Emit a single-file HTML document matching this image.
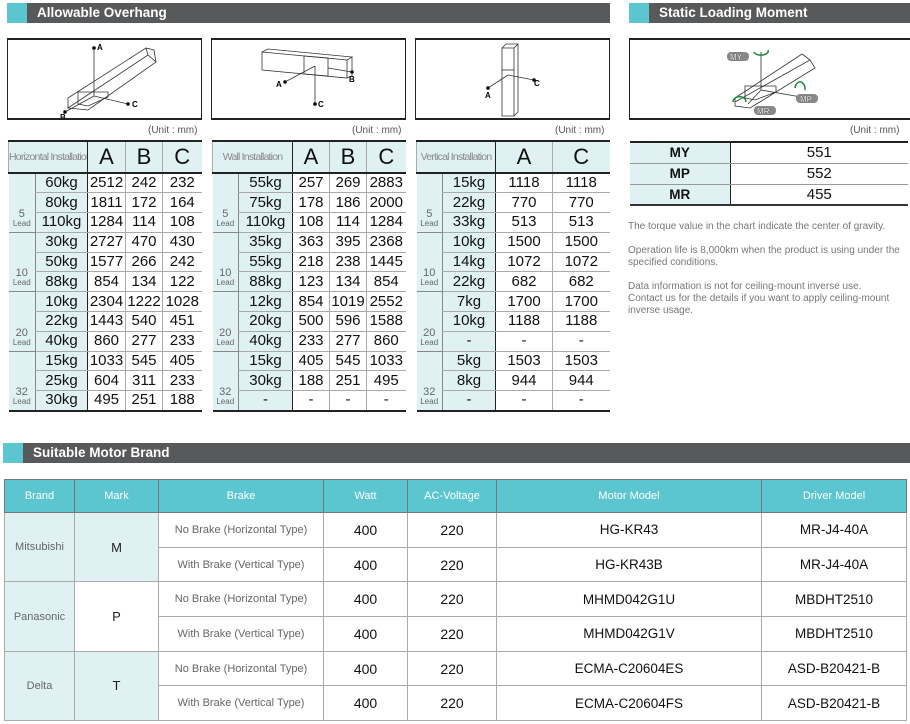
<!DOCTYPE html>
<html><head><meta charset="utf-8"><style>
*{margin:0;padding:0;box-sizing:border-box}
body{width:910px;height:724px;background:#fff;position:relative;overflow:hidden;font-family:"Liberation Sans",sans-serif}
.bar{position:absolute;height:20px;background:#58595b;color:#fff;font-weight:bold;font-size:13.5px;line-height:20px;padding-left:30px}
.bar:before{content:"";position:absolute;left:0;top:0;width:20px;height:20px;background:#5bc6cf}
.box{position:absolute;top:38px;height:82px;border:2px solid #222;border-left-width:1.5px;border-right-width:1.5px}
.unit{position:absolute;top:125px;font-size:10px;color:#555}
table{position:absolute;border-collapse:collapse;table-layout:fixed}
.t td{border-bottom:1px solid #aaa;border-left:1px solid #aaa;height:19.8px;text-align:center;font-size:15px;color:#111;padding:0;line-height:18px}
.t tr.h td{height:32px;background:#e0f1f4;font-size:22px;border-bottom:2px solid #222}
.t tr.h td.lbl{font-size:10.5px;color:#888;letter-spacing:-0.8px;white-space:nowrap;overflow:hidden}
.t{border-top:2px solid #222;border-bottom:2px solid #222}
.t td.ld{background:#e0f1f4;font-size:11px;color:#666;vertical-align:bottom;line-height:10px;padding-bottom:4px;border-left:none;border-bottom:1px solid #888}
.t td.ld span{font-size:8px;display:block;line-height:9px}
.t td.kg{background:#e0f1f4;border-left:1px solid #888}
.t td.a{border-left:1.5px solid #222}
.m td{border-bottom:1.5px solid #999;height:21px;text-align:center;font-size:15px;color:#111}
.m td.k{background:#e0f1f4;font-weight:bold;font-size:13.5px;border-right:1.5px solid #222}
.m{border-top:2px solid #222;border-bottom:2px solid #333}
.note{position:absolute;left:628px;font-size:10px;color:#777;line-height:12px;white-space:nowrap}
.b td{border:1px solid #aaa;text-align:center;height:34.7px;font-size:14px;color:#111}
.b tr.h td{background:#5bc6cf;color:#fff;font-size:11px;height:33px;border-color:#777}
.b td.br{background:#e0f1f4;color:#666;font-size:11px}
.b td.bk{color:#666;font-size:11px}
.b td.mo{font-size:13.5px;color:#111}
.b{border:1.5px solid #888}
</style></head><body>
<div class="bar" style="left:7px;top:3px;width:603px">Allowable Overhang</div>
<div class="bar" style="left:629px;top:3px;width:281px">Static Loading Moment</div>

<div class="box" style="left:7px;width:195px">
<svg width="192" height="78" viewBox="0 0 192 78" fill="none" stroke="#333" stroke-width="0.8" font-family="Liberation Sans" font-size="8" font-weight="bold">
<path d="M60 68 L140 15 L148 22 L80 70 L60 68 Z M60 68 L60 58 L138 8 L140 15 M138 8 L146 10 L148 22"/>
<path d="M70 52 L100 52 L100 57 L80 66 L70 64 Z"/>
<line x1="86" y1="8" x2="86" y2="56"/><line x1="86" y1="56" x2="120" y2="64"/><line x1="86" y1="56" x2="57" y2="72"/>
<circle cx="86" cy="8" r="1.5" fill="#000"/><circle cx="120" cy="64" r="1.5" fill="#000"/><circle cx="57" cy="72" r="1.5" fill="#000"/>
<text x="89" y="10" fill="#000" stroke="none">A</text><text x="124" y="67" fill="#000" stroke="none">C</text><text x="52" y="80" fill="#000" stroke="none">B</text>
</svg></div>
<div class="box" style="left:211px;width:195px">
<svg width="192" height="78" fill="none" stroke="#333" stroke-width="0.8" font-family="Liberation Sans" font-size="8" font-weight="bold">
<path d="M50 12 L135 20 L135 38 L50 30 Z M50 12 L56 9 L140 17 L135 20 M140 17 L140 36 L135 38"/>
<path d="M92 16 L116 18 L116 36 L92 34 Z"/>
<line x1="103" y1="26" x2="103" y2="64"/><line x1="103" y1="26" x2="73" y2="42"/><line x1="116" y1="28" x2="140" y2="32"/>
<circle cx="103" cy="64" r="1.5" fill="#000"/><circle cx="73" cy="42" r="1.5" fill="#000"/><circle cx="140" cy="32" r="1.5" fill="#000"/>
<text x="106" y="67" fill="#000" stroke="none">C</text><text x="64" y="47" fill="#000" stroke="none">A</text><text x="137" y="42" fill="#000" stroke="none">B</text>
</svg></div>
<div class="box" style="left:415px;width:195px">
<svg width="192" height="78" fill="none" stroke="#333" stroke-width="0.8" font-family="Liberation Sans" font-size="8" font-weight="bold">
<path d="M86 8 L98 8 L98 76 L86 76 Z M86 8 L90 4 L102 4 L98 8 M102 4 L102 72 L98 76"/>
<line x1="86" y1="30" x2="98" y2="30"/>
<line x1="92" y1="35" x2="72" y2="48"/><line x1="92" y1="35" x2="118" y2="40"/>
<circle cx="72" cy="48" r="1.5" fill="#000"/><circle cx="118" cy="40" r="1.5" fill="#000"/>
<text x="69" y="58" fill="#000" stroke="none">A</text><text x="118" y="46" fill="#000" stroke="none">C</text>
</svg></div>
<div class="box" style="left:629px;width:285px">
<svg width="280" height="78" fill="none" stroke="#333" stroke-width="0.8" font-family="Liberation Sans" font-size="8" font-weight="bold">
<path d="M105 62 L180 20 L185 28 L120 68 L105 66 Z M105 66 L105 58 L172 14 L180 20"/>
<path d="M115 46 L146 46 L146 52 L125 60 L115 58 Z"/>
<line x1="131" y1="12" x2="131" y2="50"/><line x1="131" y1="50" x2="171" y2="57"/><line x1="131" y1="50" x2="118" y2="64"/>
<rect x="97" y="12" width="22" height="9" rx="4" fill="#888" stroke="none"/><text x="100" y="20" fill="#fff" stroke="#444" stroke-width="0.3">MY</text>
<rect x="166" y="54" width="22" height="9" rx="4" fill="#888" stroke="none"/><text x="170" y="62" fill="#fff" stroke="#444" stroke-width="0.3">MP</text>
<rect x="124" y="66" width="22" height="9" rx="4" fill="#888" stroke="none"/><text x="127" y="74" fill="#fff" stroke="#444" stroke-width="0.3">MR</text>
<path d="M124 12 A7 4 0 1 0 138 10" stroke="#1a8a3a" stroke-width="1.5"/>
<path d="M165 48 A5 7 0 1 1 175 50" stroke="#1a8a3a" stroke-width="1.5"/>
<path d="M103 62 A6 5 0 1 1 116 62" stroke="#1a8a3a" stroke-width="1.5"/>
</svg></div>

<div class="unit" style="left:148px">(Unit : mm)</div>
<div class="unit" style="left:352px">(Unit : mm)</div>
<div class="unit" style="left:555px">(Unit : mm)</div>
<div class="unit" style="left:850px">(Unit : mm)</div>

<table class="t" style="left:8px;top:140px;width:193px">
<colgroup><col style="width:27px"><col style="width:52px"><col style="width:38px"><col style="width:37px"><col style="width:39px"></colgroup>
<tr class="h"><td class="lbl" colspan="2">Horizontal Installation</td><td class="a">A</td><td>B</td><td>C</td></tr>
<tr><td class="ld" rowspan="3">5<span>Lead</span></td><td class="kg">60kg</td><td class="a">2512</td><td>242</td><td>232</td></tr>
<tr><td class="kg">80kg</td><td class="a">1811</td><td>172</td><td>164</td></tr>
<tr><td class="kg">110kg</td><td class="a">1284</td><td>114</td><td>108</td></tr>
<tr><td class="ld" rowspan="3">10<span>Lead</span></td><td class="kg">30kg</td><td class="a">2727</td><td>470</td><td>430</td></tr>
<tr><td class="kg">50kg</td><td class="a">1577</td><td>266</td><td>242</td></tr>
<tr><td class="kg">88kg</td><td class="a">854</td><td>134</td><td>122</td></tr>
<tr><td class="ld" rowspan="3">20<span>Lead</span></td><td class="kg">10kg</td><td class="a">2304</td><td>1222</td><td>1028</td></tr>
<tr><td class="kg">22kg</td><td class="a">1443</td><td>540</td><td>451</td></tr>
<tr><td class="kg">40kg</td><td class="a">860</td><td>277</td><td>233</td></tr>
<tr><td class="ld" rowspan="3">32<span>Lead</span></td><td class="kg">15kg</td><td class="a">1033</td><td>545</td><td>405</td></tr>
<tr><td class="kg">25kg</td><td class="a">604</td><td>311</td><td>233</td></tr>
<tr><td class="kg">30kg</td><td class="a">495</td><td>251</td><td>188</td></tr>
</table>

<table class="t" style="left:212px;top:140px;width:193px">
<colgroup><col style="width:26px"><col style="width:54px"><col style="width:37px"><col style="width:37px"><col style="width:39px"></colgroup>
<tr class="h"><td class="lbl" colspan="2">Wall Installation</td><td class="a">A</td><td>B</td><td>C</td></tr>
<tr><td class="ld" rowspan="3">5<span>Lead</span></td><td class="kg">55kg</td><td class="a">257</td><td>269</td><td>2883</td></tr>
<tr><td class="kg">75kg</td><td class="a">178</td><td>186</td><td>2000</td></tr>
<tr><td class="kg">110kg</td><td class="a">108</td><td>114</td><td>1284</td></tr>
<tr><td class="ld" rowspan="3">10<span>Lead</span></td><td class="kg">35kg</td><td class="a">363</td><td>395</td><td>2368</td></tr>
<tr><td class="kg">55kg</td><td class="a">218</td><td>238</td><td>1445</td></tr>
<tr><td class="kg">88kg</td><td class="a">123</td><td>134</td><td>854</td></tr>
<tr><td class="ld" rowspan="3">20<span>Lead</span></td><td class="kg">12kg</td><td class="a">854</td><td>1019</td><td>2552</td></tr>
<tr><td class="kg">20kg</td><td class="a">500</td><td>596</td><td>1588</td></tr>
<tr><td class="kg">40kg</td><td class="a">233</td><td>277</td><td>860</td></tr>
<tr><td class="ld" rowspan="3">32<span>Lead</span></td><td class="kg">15kg</td><td class="a">405</td><td>545</td><td>1033</td></tr>
<tr><td class="kg">30kg</td><td class="a">188</td><td>251</td><td>495</td></tr>
<tr><td class="kg">-</td><td class="a">-</td><td>-</td><td>-</td></tr>
</table>

<table class="t" style="left:416px;top:140px;width:193px">
<colgroup><col style="width:26px"><col style="width:53px"><col style="width:57px"><col style="width:57px"></colgroup>
<tr class="h"><td class="lbl" colspan="2">Vertical Installation</td><td class="a">A</td><td>C</td></tr>
<tr><td class="ld" rowspan="3">5<span>Lead</span></td><td class="kg">15kg</td><td class="a">1118</td><td>1118</td></tr>
<tr><td class="kg">22kg</td><td class="a">770</td><td>770</td></tr>
<tr><td class="kg">33kg</td><td class="a">513</td><td>513</td></tr>
<tr><td class="ld" rowspan="3">10<span>Lead</span></td><td class="kg">10kg</td><td class="a">1500</td><td>1500</td></tr>
<tr><td class="kg">14kg</td><td class="a">1072</td><td>1072</td></tr>
<tr><td class="kg">22kg</td><td class="a">682</td><td>682</td></tr>
<tr><td class="ld" rowspan="3">20<span>Lead</span></td><td class="kg">7kg</td><td class="a">1700</td><td>1700</td></tr>
<tr><td class="kg">10kg</td><td class="a">1188</td><td>1188</td></tr>
<tr><td class="kg">-</td><td class="a">-</td><td>-</td></tr>
<tr><td class="ld" rowspan="3">32<span>Lead</span></td><td class="kg">5kg</td><td class="a">1503</td><td>1503</td></tr>
<tr><td class="kg">8kg</td><td class="a">944</td><td>944</td></tr>
<tr><td class="kg">-</td><td class="a">-</td><td>-</td></tr>
</table>

<table class="m" style="left:630px;top:141px;width:278px">
<colgroup><col style="width:100px"><col style="width:178px"></colgroup>
<tr><td class="k">MY</td><td>551</td></tr>
<tr><td class="k">MP</td><td>552</td></tr>
<tr><td class="k">MR</td><td>455</td></tr>
</table>

<div class="note" style="top:221px">The torque value in the chart indicate the center of gravity.</div>
<div class="note" style="top:245px">Operation life is 8,000km when the product is using under the<br>specified conditions.</div>
<div class="note" style="top:281px">Data information is not for ceiling-mount inverse use.<br>Contact us for the details if you want to apply ceiling-mount<br>inverse usage.</div>

<div class="bar" style="left:3px;top:443px;width:907px">Suitable Motor Brand</div>

<table class="b" style="left:4px;top:479px;width:902px">
<colgroup><col style="width:70px"><col style="width:84px"><col style="width:165px"><col style="width:84px"><col style="width:89px"><col style="width:265px"><col style="width:145px"></colgroup>
<tr class="h"><td>Brand</td><td>Mark</td><td>Brake</td><td>Watt</td><td>AC-Voltage</td><td>Motor Model</td><td>Driver Model</td></tr>
<tr><td class="br" rowspan="2">Mitsubishi</td><td class="br" rowspan="2" style="color:#222;font-size:13px">M</td><td class="bk">No Brake (Horizontal Type)</td><td>400</td><td>220</td><td class="mo">HG-KR43</td><td class="mo">MR-J4-40A</td></tr>
<tr><td class="bk">With Brake (Vertical Type)</td><td>400</td><td>220</td><td class="mo">HG-KR43B</td><td class="mo">MR-J4-40A</td></tr>
<tr><td class="br" rowspan="2">Panasonic</td><td class="br" rowspan="2" style="color:#222;font-size:13px;background:#fff">P</td><td class="bk">No Brake (Horizontal Type)</td><td>400</td><td>220</td><td class="mo">MHMD042G1U</td><td class="mo">MBDHT2510</td></tr>
<tr><td class="bk">With Brake (Vertical Type)</td><td>400</td><td>220</td><td class="mo">MHMD042G1V</td><td class="mo">MBDHT2510</td></tr>
<tr><td class="br" rowspan="2">Delta</td><td class="br" rowspan="2" style="color:#222;font-size:13px">T</td><td class="bk">No Brake (Horizontal Type)</td><td>400</td><td>220</td><td class="mo">ECMA-C20604ES</td><td class="mo">ASD-B20421-B</td></tr>
<tr><td class="bk">With Brake (Vertical Type)</td><td>400</td><td>220</td><td class="mo">ECMA-C20604FS</td><td class="mo">ASD-B20421-B</td></tr>
</table>
</body></html>
